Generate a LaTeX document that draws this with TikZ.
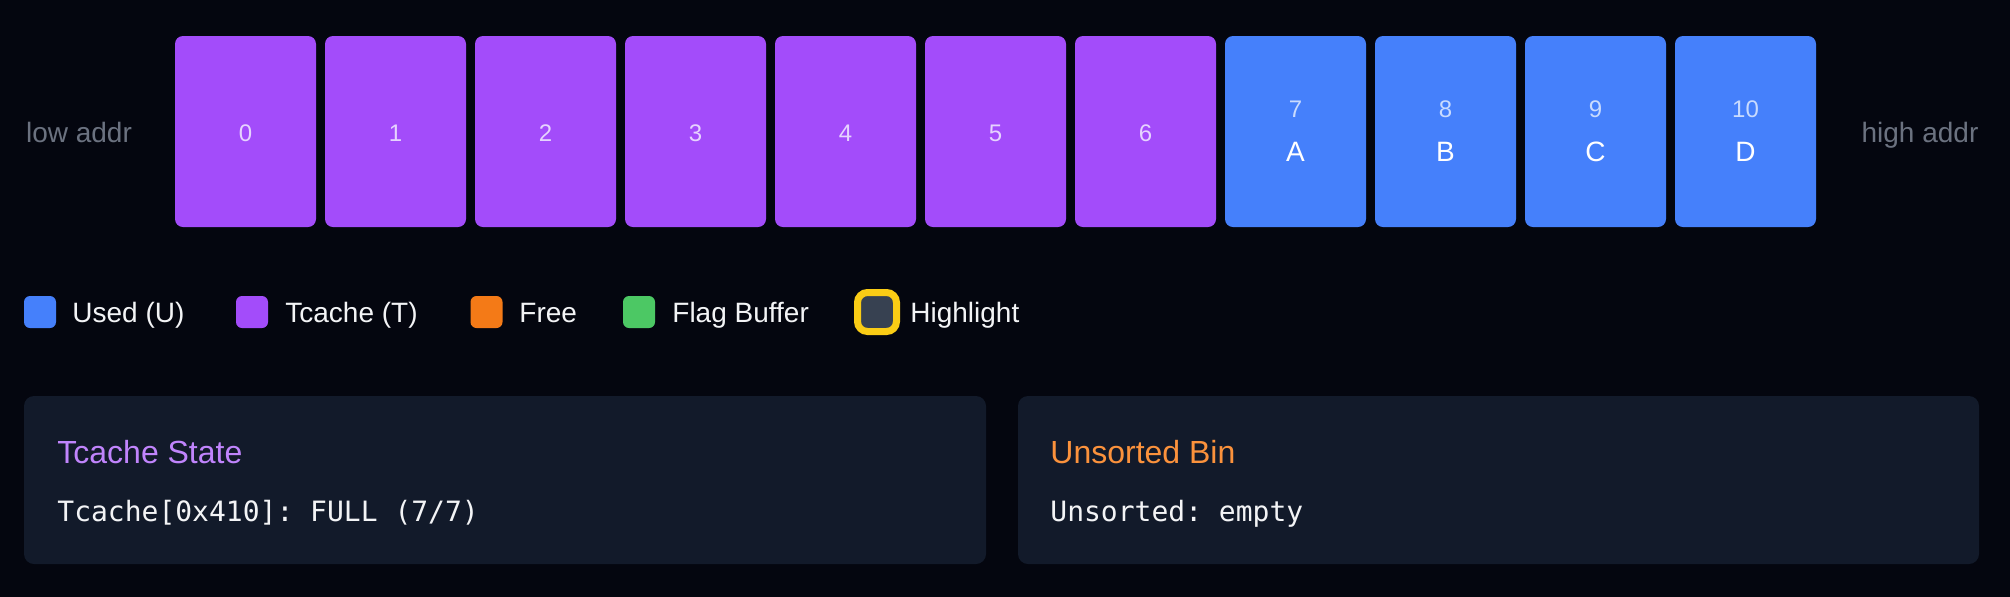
\documentclass[tikz,border=0pt]{standalone}
\usepackage{fontspec}
\setmainfont{Liberation Sans}
\setmonofont{DejaVu Sans Mono}
\usepackage{xcolor}
\usepackage{tikz}

\definecolor{bgcol}{HTML}{04060F}
\definecolor{tcachecol}{HTML}{A34CFA}
\definecolor{usedcol}{HTML}{4580FB}
\definecolor{freecol}{HTML}{F47A17}
\definecolor{flagcol}{HTML}{4CC864}
\definecolor{hlgray}{HTML}{374151}
\definecolor{hlyellow}{HTML}{FACC15}
\definecolor{panelcol}{HTML}{121A2A}
\definecolor{addrgray}{HTML}{6B7280}
\definecolor{lighttext}{HTML}{F3F4F6}
\definecolor{tnumcol}{HTML}{E6D3FE}
\definecolor{unumcol}{HTML}{C9DBFE}
\definecolor{tcachetitle}{HTML}{C084FC}
\definecolor{unsortedtitle}{HTML}{FB923C}

\begin{document}
\begin{tikzpicture}[x=0.5pt, y=-0.5pt,
    tblock/.style={fill=tcachecol, rounded corners=4pt, minimum width=70.5pt, minimum height=95.5pt, inner sep=0pt},
    ublock/.style={fill=usedcol, rounded corners=4pt, minimum width=70.5pt, minimum height=95.5pt, inner sep=0pt},
    numtxt/.style={font=\fontsize{12}{14}\selectfont, anchor=base, inner sep=0pt},
    ltrtxt/.style={font=\fontsize{14}{17}\selectfont, text=white, anchor=base, inner sep=0pt},
    addrtxt/.style={font=\fontsize{14}{17}\selectfont, text=addrgray, anchor=base, inner sep=0pt},
    swatch/.style={rounded corners=3pt, minimum size=16pt, inner sep=0pt},
    legtxt/.style={font=\fontsize{14}{17}\selectfont, text=lighttext, anchor=base west, inner sep=0pt},
    panel/.style={fill=panelcol, rounded corners=5pt, minimum height=84pt, inner sep=0pt},
    paneltitle/.style={font=\fontsize{16}{19}\selectfont, anchor=base west, inner sep=0pt},
    monotxt/.style={font=\ttfamily\fontsize{14}{17}\selectfont, text=lighttext, anchor=base west, inner sep=0pt}]

    % Background
    \useasboundingbox (0,0) rectangle (2010,596);
    \fill[bgcol] (-10,-10) rectangle (2020,606);

    % Address ends
    \node[addrtxt] (lowaddr) at (79,142) {low addr};
    \node[addrtxt] (highaddr) at (1920,142) {high addr};

    % Tcache chunks
    \node[tblock] (c0) at (245.5,131.5) {}; \node[numtxt, text=tnumcol] (n0) at (245.5,141.5) {0};
    \node[tblock] (c1) at (395.5,131.5) {}; \node[numtxt, text=tnumcol] (n1) at (395.5,141.5) {1};
    \node[tblock] (c2) at (545.5,131.5) {}; \node[numtxt, text=tnumcol] (n2) at (545.5,141.5) {2};
    \node[tblock] (c3) at (695.5,131.5) {}; \node[numtxt, text=tnumcol] (n3) at (695.5,141.5) {3};
    \node[tblock] (c4) at (845.5,131.5) {}; \node[numtxt, text=tnumcol] (n4) at (845.5,141.5) {4};
    \node[tblock] (c5) at (995.5,131.5) {}; \node[numtxt, text=tnumcol] (n5) at (995.5,141.5) {5};
    \node[tblock] (c6) at (1145.5,131.5) {}; \node[numtxt, text=tnumcol] (n6) at (1145.5,141.5) {6};

    % Used chunks
    \node[ublock] (c7) at (1295.5,131.5) {}; \node[numtxt, text=unumcol] (n7) at (1295.5,117) {7};
    \node[ltrtxt] (l7) at (1295.5,161.5) {A};
    \node[ublock] (c8) at (1445.5,131.5) {}; \node[numtxt, text=unumcol] (n8) at (1445.5,117) {8};
    \node[ltrtxt] (l8) at (1445.5,161.5) {B};
    \node[ublock] (c9) at (1595.5,131.5) {}; \node[numtxt, text=unumcol] (n9) at (1595.5,117) {9};
    \node[ltrtxt] (l9) at (1595.5,161.5) {C};
    \node[ublock] (c10) at (1745.5,131.5) {}; \node[numtxt, text=unumcol] (n10) at (1745.5,117) {10};
    \node[ltrtxt] (l10) at (1745.5,161.5) {D};

    % Legend
    \node[swatch, fill=usedcol] (usedsq) at (40,312) {};
    \node[legtxt] (usedlbl) at (72,322) {Used (U)};
    \node[swatch, fill=tcachecol] (tcachesq) at (252,312) {};
    \node[legtxt] (tcachelbl) at (285,322) {Tcache (T)};
    \node[swatch, fill=freecol] (freesq) at (486.5,312) {};
    \node[legtxt] (freelbl) at (519,322) {Free};
    \node[swatch, fill=flagcol] (flagsq) at (639,312) {};
    \node[legtxt] (flaglbl) at (672,322) {Flag Buffer};
    \node[swatch, fill=hlgray, draw=hlyellow, line width=3.5pt, minimum size=19.5pt, rounded corners=5pt] (hlsq) at (877,312) {};
    \node[legtxt] (hllbl) at (910,322) {Highlight};

    % Tcache panel
    \node[panel, minimum width=481pt] (tpanel) at (505,480) {};
    \node[paneltitle, text=tcachetitle] (ttitle) at (57,463) {Tcache State};
    \node[monotxt] (tline) at (57,521) {Tcache[0x410]: FULL (7/7)};

    % Unsorted panel
    \node[panel, minimum width=480.5pt] (upanel) at (1498.5,480) {};
    \node[paneltitle, text=unsortedtitle] (utitle) at (1050,463) {Unsorted Bin};
    \node[monotxt] (uline) at (1050,521) {Unsorted: empty};
\end{tikzpicture}
\end{document}
